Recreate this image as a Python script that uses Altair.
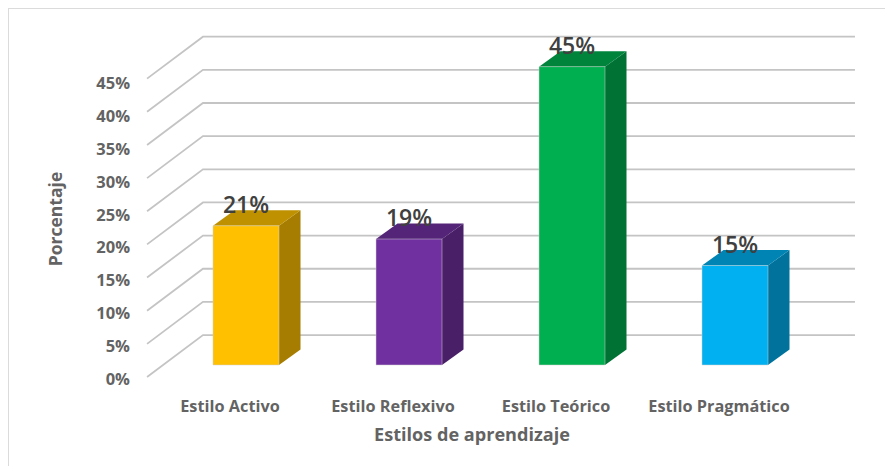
import altair as alt
import pandas as pd

categories = ["Estilo Activo", "Estilo Reflexivo", "Estilo Teórico", "Estilo Pragmático"]
values = [21, 19, 45, 15]
value_labels = ["21%", "19%", "45%", "15%"]
front_colors = ["#FFC000", "#7030A0", "#00B050", "#00B0F0"]
top_colors = ["#BF9000", "#542478", "#00843C", "#0084B4"]
side_colors = ["#A67D00", "#491F68", "#007234", "#00729C"]
grid_values = [0, 5, 10, 15, 20, 25, 30, 35, 40, 45]
x_title = "Estilos de aprendizaje"
y_title = "Porcentaje"

W, H = 877, 458
PX_PER_CAT = 163.0
PX_PER_PCT = 6.63
X_DOM = [-238 / PX_PER_CAT, (W - 238) / PX_PER_CAT]
Y_DOM = [(357 - H) / PX_PER_PCT, 357 / PX_PER_PCT]
HALF = 33 / PX_PER_CAT
DX = 21.5 / PX_PER_CAT
DY = 15.5 / PX_PER_PCT

WALL_L = -0.607
WALL_B = -0.264
WALL_R = 3.736
WALL_FRONT = -1.81
WALL_BACK = 4.52
TICK_BASE = -2.2
TICK_STEP = 32.8 / 33.15

xs = alt.Scale(domain=X_DOM, nice=False, zero=False)
ys = alt.Scale(domain=Y_DOM, nice=False, zero=False)
FONT = "Open Sans"

def X(f="x"):
    return alt.X(f"{f}:Q", scale=xs, axis=None)

def Y(f="y"):
    return alt.Y(f"{f}:Q", scale=ys, axis=None, stack=None)

# gridlines
grid_rows = []
for g in grid_values:
    grid_rows += [
        dict(g=g, o=0, x=WALL_L, y=g + WALL_FRONT),
        dict(g=g, o=1, x=WALL_B, y=g + WALL_BACK),
        dict(g=g, o=2, x=WALL_R, y=g + WALL_BACK),
    ]
grid = alt.Chart(pd.DataFrame(grid_rows)).mark_line(color="#C4C4C4", strokeWidth=1.8).encode(
    x=X(), y=Y(), detail="g:N", order="o:Q"
)

# bars
front_rows, side_rows, top_rows, label_rows, cat_rows = [], [], [], [], []
for i, (c, v) in enumerate(zip(categories, values)):
    x0, x1 = i - HALF, i + HALF
    front_rows.append(dict(x=x0, x2=x1, y=0, y2=v, c=front_colors[i]))
    side_rows += [
        dict(id=i, x=x1, y=v, y2=0, c=side_colors[i]),
        dict(id=i, x=x1 + DX, y=v + DY, y2=DY, c=side_colors[i]),
    ]
    top_rows += [
        dict(id=i, x=x0, y=v, y2=v, c=top_colors[i]),
        dict(id=i, x=x0 + DX, y=v + DY, y2=v, c=top_colors[i]),
        dict(id=i, x=x1, y=v + DY, y2=v, c=top_colors[i]),
        dict(id=i, x=x1 + DX, y=v + DY, y2=v + DY, c=top_colors[i]),
    ]
    label_rows.append(dict(x=i, y=v + 20 / PX_PER_PCT, t=value_labels[i]))
    cat_rows.append(dict(x=i - 16 / PX_PER_CAT, y=-42 / PX_PER_PCT, t=c))

front = alt.Chart(pd.DataFrame(front_rows)).mark_rect(stroke="#D0D0D0", strokeWidth=0.5).encode(
    x=X(), x2="x2:Q", y=Y(), y2="y2:Q", fill=alt.Fill("c:N", scale=None)
)
side = alt.Chart(pd.DataFrame(side_rows)).mark_area(opacity=1).encode(
    x=X(), y=Y(), y2="y2:Q", detail="id:N", fill=alt.Fill("c:N", scale=None)
)
top = alt.Chart(pd.DataFrame(top_rows)).mark_area(opacity=1).encode(
    x=X(), y=Y(), y2="y2:Q", detail="id:N", fill=alt.Fill("c:N", scale=None)
)

val_text = alt.Chart(pd.DataFrame(label_rows)).mark_text(
    font=FONT, fontSize=23, fontWeight=600, color="#404040", align="center", baseline="middle"
).encode(x=X(), y=Y(), text="t:N")

cat_text = alt.Chart(pd.DataFrame(cat_rows)).mark_text(
    font=FONT, fontSize=16.3, fontWeight="bold", color="#636363", align="center", baseline="middle"
).encode(x=X(), y=Y(), text="t:N")

tick_df = pd.DataFrame(
    [dict(x=-116 / PX_PER_CAT, y=TICK_BASE + g * TICK_STEP, t=f"{g}%") for g in grid_values]
)
tick_text = alt.Chart(tick_df).mark_text(
    font=FONT, fontSize=16.5, fontWeight="bold", color="#636363", align="right", baseline="middle"
).encode(x=X(), y=Y(), text="t:N")

xt = alt.Chart(pd.DataFrame([dict(x=226 / PX_PER_CAT, y=-71 / PX_PER_PCT, t=x_title)])).mark_text(
    font=FONT, fontSize=18.1, fontWeight="bold", color="#636363", align="center", baseline="middle"
).encode(x=X(), y=Y(), text="t:N")

yt = alt.Chart(pd.DataFrame([dict(x=-189 / PX_PER_CAT, y=146 / PX_PER_PCT, t=y_title)])).mark_text(
    font=FONT, fontSize=17.5, fontWeight="bold", color="#636363", align="center", baseline="middle", angle=270
).encode(x=X(), y=Y(), text="t:N")

frame_top = alt.Chart(pd.DataFrame({"a": [0]})).mark_rule(color="#DADADA", strokeWidth=1.5).encode(
    x=alt.value(0), x2=alt.value(W), y=alt.value(0)
)
frame_left = alt.Chart(pd.DataFrame({"a": [0]})).mark_rule(color="#DADADA", strokeWidth=1.5).encode(
    x=alt.value(0), y=alt.value(0), y2=alt.value(H)
)

chart = (
    alt.layer(frame_top, frame_left, grid, side, top, front, val_text, cat_text, tick_text, xt, yt)
    .properties(width=W, height=H, padding=0, autosize=alt.AutoSizeParams(type="none"))
    .configure_view(strokeWidth=0, fill="white")
    .configure(background="white")
)

chart.save("out.html", embed_options={"renderer": "svg", "actions": False})
